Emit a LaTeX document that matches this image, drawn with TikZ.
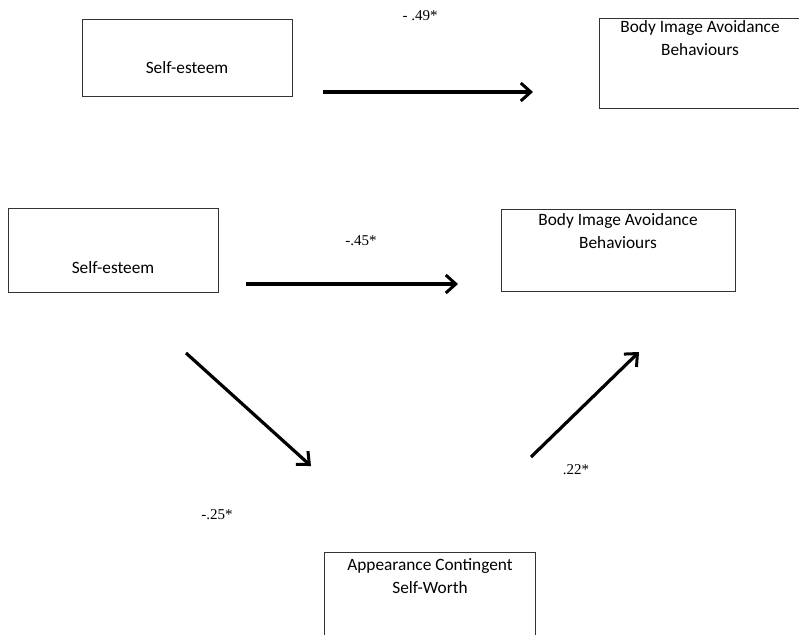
\documentclass[tikz,border=0pt]{standalone}
\usepackage{fontspec}
\setmainfont{Liberation Serif}
\newfontfamily\boxfont{Carlito}
\usetikzlibrary{arrows.meta}
\begin{document}
\begin{tikzpicture}[x=1pt,y=-1pt,
  box/.style={draw=black!80, line width=0.9pt, inner sep=0pt, fill=none},
  boxtext/.style={font=\boxfont\fontsize{17.3}{23}\selectfont, align=center, inner sep=0pt},
  coef/.style={font=\fontsize{15}{18}\selectfont, inner sep=0pt},
  path/.style={line width=3.2pt, -{Straight Barb[length=10pt,width=18pt,line width=3pt]}}
]
\useasboundingbox (0,0) rectangle (799,634);
\clip (0,0) rectangle (799,634);
% top model
\node[box, minimum width=210pt, minimum height=77pt] (se1) at (187,57.5) {};
\node[boxtext] (se1t) at (187,68) {Self-esteem};
\node[box, minimum width=202pt, minimum height=90pt] (bia1) at (700,63) {};
\node[boxtext, anchor=north] (bia1t) at (700,20) {Body Image Avoidance\\Behaviours};
\coordinate (a1s) at (323,92);
\coordinate (a1e) at (533,92);
\draw[path] (a1s) -- (a1e);
\node[coef] (c1) at (420,16) {- .49*};
% mediation model
\node[box, minimum width=210pt, minimum height=84pt] (se2) at (113,250) {};
\node[boxtext] (se2t) at (113,268) {Self-esteem};
\node[box, minimum width=234pt, minimum height=82pt] (bia2) at (618,250) {};
\node[boxtext, anchor=north] (bia2t) at (618,213) {Body Image Avoidance\\Behaviours};
\coordinate (a2s) at (246,284);
\coordinate (a2e) at (458,284);
\draw[path] (a2s) -- (a2e);
\node[coef] (c2) at (361,241) {-.45*};
\coordinate (a3s) at (186,353);
\coordinate (a3e) at (311,466);
\draw[path] (a3s) -- (a3e);
\node[coef] (c3) at (217,515) {-.25*};
\coordinate (a4s) at (531,457);
\coordinate (a4e) at (639,352);
\draw[path] (a4s) -- (a4e);
\node[coef] (c4) at (576,470) {.22*};
\node[box, minimum width=211pt, minimum height=90pt] (acsw) at (429.5,597) {};
\node[boxtext, anchor=north] (acswt) at (430,558) {Appearance Contingent\\Self-Worth};
\end{tikzpicture}
\end{document}
